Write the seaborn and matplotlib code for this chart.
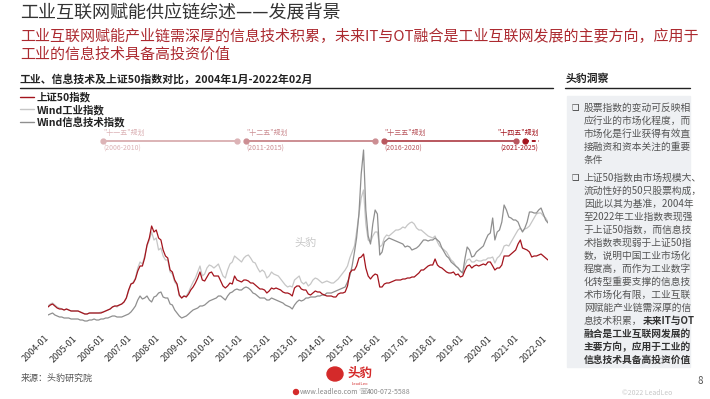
import matplotlib
matplotlib.use("Agg")
import matplotlib.pyplot as plt
import matplotlib.transforms as mtransforms
from matplotlib.lines import Line2D
from matplotlib.patches import Rectangle, Ellipse
import seaborn as sns
import pandas as pd

sns.set_style("white")
plt.rcParams['font.family'] = ['Noto Sans CJK SC', 'DejaVu Sans']
plt.rcParams['axes.unicode_minus'] = False

# monthly closes, 2004-01 .. 2022-02
months = pd.date_range('2004-01-01', '2022-02-01', freq='MS')

sse50 = [
    1150, 1250, 1300, 1200, 1100, 1050, 1050, 1000, 1050, 1000, 950, 950,
    950, 950, 900, 850, 800, 800, 850, 850, 850, 850, 850, 850,
    900, 950, 1000, 1050, 1150, 1200, 1200, 1250, 1300, 1400, 1600, 2000,
    2300, 2350, 2550, 2950, 3200, 3200, 3600, 4250, 4600, 5200, 4900, 5000,
    4600, 4500, 4000, 3700, 3600, 3000, 2900, 2500, 2300, 1750, 1600, 1700,
    1650, 1800, 2000, 2150, 2350, 2600, 2900, 2500, 2450, 2650, 2850, 2900,
    2700, 2700, 2700, 2450, 2200, 2100, 2200, 2350, 2300, 2700, 2500, 2450,
    2400, 2500, 2500, 2450, 2350, 2350, 2250, 2150, 2050, 2050, 2000, 1850,
    1950, 2100, 2050, 2100, 2050, 2000, 1900, 1850, 1850, 1800, 1700, 2100,
    2200, 2200, 2050, 2000, 2000, 1800, 1750, 1850, 1950, 1900, 1900, 1800,
    1750, 1700, 1700, 1700, 1650, 1650, 1800, 1850, 1850, 1900, 2200, 2850,
    3000, 3000, 3200, 3600, 3650, 3800, 3100, 2700, 2550, 2700, 2800, 2750,
    2150, 2150, 2300, 2350, 2350, 2400, 2450, 2500, 2500, 2500, 2550, 2550,
    2600, 2600, 2650, 2650, 2750, 2850, 3000, 3000, 3100, 3200, 3250, 3250,
    3550, 3250, 3150, 3100, 3000, 2900, 2850, 2850, 2900, 2750, 2800, 2650,
    2700, 3000, 3200, 3250, 3100, 3200, 3250, 3200, 3250, 3300, 3250, 3400,
    3400, 3200, 3000, 3100, 3100, 3250, 3700, 3700, 3700, 3800, 3900, 4000,
    4300, 4500, 4100, 4050, 4000, 3900, 3650, 3700, 3700, 3750, 3800, 3700,
    3600, 3500,
]

wind_industry = [
    1200, 1300, 1350, 1250, 1150, 1100, 1050, 1000, 1050, 1000, 950, 950,
    950, 950, 900, 850, 800, 800, 850, 850, 850, 850, 850, 900,
    900, 950, 1000, 1050, 1150, 1200, 1150, 1250, 1300, 1400, 1600, 1950,
    2300, 2400, 2600, 3100, 3400, 3300, 3700, 4200, 4500, 4900, 4500, 4600,
    4000, 4100, 3700, 3500, 3500, 2900, 2800, 2400, 2250, 1700, 1600, 1700,
    1700, 1900, 2150, 2400, 2600, 2900, 3200, 2700, 2800, 3100, 3250, 3200,
    3100, 3200, 3300, 3000, 2700, 2600, 3000, 3300, 3400, 3700, 3600, 3500,
    3400, 3600, 3700, 3750, 3600, 3400, 3350, 3100, 2900, 3000, 2900, 2600,
    2700, 2900, 2800, 2750, 2700, 2550, 2400, 2250, 2150, 2200, 2150, 2500,
    2600, 2700, 2400, 2300, 2400, 2200, 2300, 2500, 2600, 2550, 2450, 2350,
    2400, 2450, 2400, 2350, 2350, 2450, 2550, 2700, 2850, 3000, 3200, 3600,
    3900, 4200, 4900, 5750, 6600, 7000, 5300, 4500, 4400, 4700, 4900, 4900,
    4150, 4250, 4600, 4750, 4700, 4800, 4900, 5000, 5000, 5050, 5150, 5100,
    5250, 5350, 5400, 5300, 5100, 5000, 5000, 4900, 4800, 4700, 4650, 4600,
    4700, 4400, 4200, 4100, 4000, 3900, 3700, 3500, 3400, 3200, 3100, 2950,
    2850, 3250, 3500, 3550, 3400, 3400, 3500, 3450, 3450, 3500, 3500, 3600,
    3600, 3650, 3350, 3600, 3700, 3900, 4200, 4250, 4200, 4400, 4600, 4800,
    5000, 5100, 4950, 5050, 5100, 5200, 5400, 5600, 5800, 5850, 5850, 5700,
    5600, 5400,
]

wind_it = [
    750, 800, 850, 750, 700, 650, 650, 600, 600, 600, 550, 550,
    550, 550, 500, 500, 450, 450, 500, 500, 550, 500, 500, 550,
    550, 600, 600, 650, 700, 700, 650, 650, 650, 700, 750, 800,
    900, 1050, 1200, 1500, 1700, 1550, 1600, 1700, 1500, 1400, 1650, 1700,
    1850, 1900, 1650, 1600, 1600, 1300, 1250, 1000, 850, 700, 600, 650,
    700, 800, 900, 1000, 1050, 1100, 1200, 1200, 1250, 1350, 1450, 1500,
    1550, 1600, 1700, 1700, 1600, 1500, 1700, 1850, 1900, 2000, 2050, 2000,
    2000, 2100, 2150, 2100, 2000, 1850, 1800, 1700, 1600, 1600, 1600, 1500,
    1500, 1600, 1550, 1500, 1450, 1400, 1350, 1250, 1200, 1150, 1050, 1250,
    1400, 1500, 1450, 1500, 1600, 1600, 1650, 1650, 1650, 1700, 1700, 1750,
    1750, 1850, 1850, 1850, 1900, 1950, 2000, 2050, 2100, 2150, 2400, 2700,
    3200, 3900, 4600, 5800, 7800, 9000, 6000, 4700, 4300, 5300, 6000, 5800,
    3750, 3900, 4400, 4500, 4600, 4550, 4500, 4450, 4400, 4350, 4300, 4150,
    4200, 4150, 4000, 4050, 4100, 4200, 4350, 4500, 4500, 4450, 4500, 4500,
    4600, 4500, 4400, 4100, 3900, 3700, 3600, 3400, 3300, 3200, 3100, 2950,
    2850, 3600, 4150, 4000, 3650, 3700, 3900, 4000, 4100, 4200, 4500, 4750,
    4850, 5600, 4500, 4900, 5000, 5400, 6250, 6000, 5650, 5600, 5500, 5500,
    5400, 5100, 4900, 5100, 5400, 5900, 5900, 5850, 5850, 6000, 6100, 5800,
    5500, 5350,
]

series_names = ['上证50指数', 'Wind工业指数', 'Wind信息技术指数']
series_colors = {'上证50指数': '#a3141d', 'Wind工业指数': '#c6c6c6',
                 'Wind信息技术指数': '#8f8f8f'}

year_ticks = pd.date_range('2004-01-01', '2022-01-01', freq='YS')

# five-year plans shown on the timeline
plan_names = ['"十一五"规划', '"十二五"规划', '"十三五"规划', '"十四五"规划']
plan_years = ['(2006-2010)', '(2011-2015)', '(2016-2020)', '(2021-2025)']
plan_start = pd.to_datetime(['2006-01-01', '2011-03-01', '2016-03-01', '2021-04-01'])
plan_end = pd.to_datetime(['2010-11-01', '2015-11-01', '2020-12-01', '2021-10-01'])
plan_colors = ['#dcb3b6', '#cc8e93', '#b9575e', '#a3141d']

df = pd.DataFrame({'date': months, '上证50指数': sse50,
                   'Wind工业指数': wind_industry, 'Wind信息技术指数': wind_it})
long = df.melt(id_vars='date', var_name='series', value_name='value')

W, H = 710, 399
fig = plt.figure(figsize=(W / 100, H / 100), dpi=100)
ax = fig.add_axes([48 / W, 69 / H, 500 / W, 200 / H])

sns.lineplot(data=long, x='date', y='value', hue='series',
             hue_order=['Wind工业指数', 'Wind信息技术指数', '上证50指数'],
             palette=series_colors, linewidth=0.9, legend=False, ax=ax)

ax.set_xlim(months[0], months[-1])
ax.set_ylim(0, 10000)
ax.set_yticks([])
ax.set_xticks(year_ticks)
ax.set_xticklabels([d.strftime('%Y-%m') for d in year_ticks], rotation=45,
                   ha='right', va='center', rotation_mode='anchor',
                   fontsize=6.5, color='#333333')
ax.tick_params(axis='x', length=0, pad=5)
ax.set_xlabel('')
ax.set_ylabel('')
sns.despine(ax=ax, left=True, bottom=True)

# plan timeline
tr = ax.get_xaxis_transform()
for i in range(4):
    c = plan_colors[i]
    if i < 3:
        ax.plot([plan_start[i], plan_end[i]], [0.945, 0.945], color=c, lw=1.4,
                transform=tr, clip_on=False)
        ax.plot([plan_start[i], plan_end[i]], [0.945, 0.945], 'o', color=c,
                ms=3.5, transform=tr, clip_on=False)
    else:
        ax.plot([plan_start[i]], [0.945], 'o', color=c, ms=3.5, transform=tr,
                clip_on=False)
        ax.plot([plan_start[i], plan_end[i]], [0.945, 0.945], color=c, lw=1.4,
                ls=(0, (2, 1.5)), transform=tr, clip_on=False)
    tx = plan_start[i] if i < 3 else plan_end[i]
    ha = 'left' if i < 3 else 'right'
    ax.text(tx, 0.985, plan_names[i], transform=tr, fontsize=5, color=c,
            ha=ha, va='center')
    ax.text(tx, 0.905, plan_years[i], transform=tr, fontsize=5, color=c,
            ha=ha, va='center')

ax.text(pd.Timestamp('2013-05-01'), 0.435, '头豹', transform=tr, fontsize=8,
        color='#c8c8c8', ha='center', va='center')

handles = [Line2D([], [], color=series_colors[n], lw=1.0) for n in series_names]
leg = ax.legend(handles, series_names, loc='upper left',
                bbox_to_anchor=(20 / W, 1 - 92 / H), bbox_transform=fig.transFigure,
                frameon=False, handlelength=1.3, handletextpad=0.3,
                labelspacing=0.2, borderpad=0, borderaxespad=0,
                prop={'size': 7.5, 'weight': 'bold'})
for t in leg.get_texts():
    t.set_color('#222222')


def T(x, y, s, **kw):
    kw.setdefault('va', 'center')
    return fig.text(x / W, 1 - y / H, s, **kw)


def hline(x1, x2, y, **kw):
    fig.add_artist(Line2D([x1 / W, x2 / W], [1 - y / H, 1 - y / H],
                          transform=fig.transFigure, **kw))


# header
T(20, 14, '工业互联网赋能供应链综述——发展背景', fontsize=13, color='#333333')
T(20, 36, '工业互联网赋能产业链需深厚的信息技术积累，未来IT与OT融合是工业互联网发展的主要方向，应用于',
  fontsize=10.8, color='#ac2a30')
T(20, 54, '工业的信息技术具备高投资价值', fontsize=10.8, color='#ac2a30')

T(20, 79, '工业、信息技术及上证50指数对比，2004年1月-2022年02月', fontsize=7.8,
  weight='bold', color='#222222')
hline(20, 553, 88, color='#222222', lw=1.0)
T(566, 79, '头豹洞察', fontsize=7.8, weight='bold', color='#222222')
hline(565, 690, 88, color='#222222', lw=1.0)

# insight box
fig.add_artist(Rectangle((567 / W, 1 - 367 / H), 123 / W, 271 / H,
                         transform=fig.transFigure, color='#eef0f3', zorder=0))
para1 = ['股票指数的变动可反映相', '应行业的市场化程度，而', '市场化是行业获得有效直',
         '接融资和资本关注的重要', '条件']
para2 = ['上证50指数由市场规模大、', '流动性好的50只股票构成，', '因此以其为基准，2004年',
         '至2022年工业指数表现强', '于上证50指数，而信息技', '术指数表现弱于上证50指',
         '数，说明中国工业市场化', '程度高，而作为工业数字', '化转型重要支撑的信息技',
         '术市场化有限，工业互联', '网赋能产业链需深厚的信']
para2_bold = ['融合是工业互联网发展的', '主要方向，应用于工业的', '信息技术具备高投资价值']

body = dict(fontsize=7, color='#555555')
bold = dict(fontsize=7, color='#333333', weight='bold')
y = 108
T(572, y, '❑', fontsize=6, color='#333333', family='DejaVu Sans')
for line in para1:
    T(584, y, line, **body)
    y += 13
y += 5
T(572, y, '❑', fontsize=6, color='#333333', family='DejaVu Sans')
for line in para2:
    T(584, y, line, **body)
    y += 13
renderer = fig.canvas.get_renderer()
t = T(584, y, '息技术积累，', **body)
x_end = t.get_window_extent(renderer).x1
fig.text(x_end / W, 1 - y / H, '未来IT与OT', va='center', **bold)
y += 13
for line in para2_bold:
    T(584, y, line, **bold)
    y += 13

# footer
T(21, 378, '来源：头豹研究院', fontsize=6.5, color='#555555')
fig.add_artist(Ellipse((335 / W, 1 - 374 / H), 16 / W, 14 / H,
                       transform=fig.transFigure, color='#d42a2a'))
T(348, 373, '头豹', fontsize=9, weight='bold', color='#d42a2a')
T(352, 384, 'LeadLeo', fontsize=3, color='#d42a2a')
fig.add_artist(Ellipse((296 / W, 1 - 392 / H), 5 / W, 5 / H,
                       transform=fig.transFigure, color='#d42a2a'))
T(300, 392, 'www.leadleo.com', fontsize=5, color='#888888')
T(358, 392, '☏', fontsize=6, color='#888888', family='DejaVu Sans')
T(367, 392, '400-072-5588', fontsize=5, color='#888888')
T(697, 381, '8', fontsize=7, color='#555555')
T(622, 393, '©2022 LeadLeo', fontsize=5, color='#c8c8c8')

fig.savefig('out.png', dpi=100)
